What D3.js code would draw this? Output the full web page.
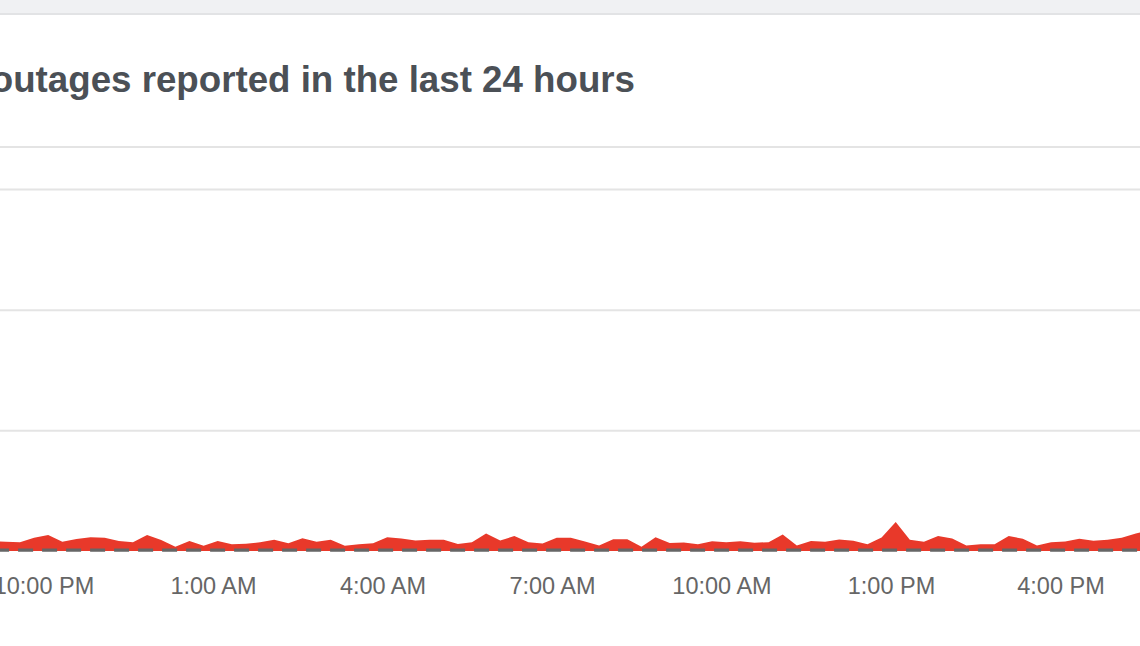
<!DOCTYPE html>
<html>
<head>
<meta charset="utf-8">
<script src="https://cdn.jsdelivr.net/npm/d3@7"></script>
<style>
  html, body { margin: 0; padding: 0; background: #fff; }
  svg { display: block; }
</style>
</head>
<body>
<svg id="chart" width="1140" height="646"></svg>
<script>
// ---- data ----
const titleText = "outages reported in the last 24 hours";
// first sample time and sampling interval (15 minutes)
const firstSample = "2024-01-01T21:05:00";
const sampleMinutes = 15;
// reports per sample
const reports = [
  0.80,
  0.77, 0.72, 1.10, 1.33, 0.77, 0.99, 1.14, 1.10, 0.83, 0.72,
  1.33, 0.91, 0.36, 0.83, 0.44, 0.83, 0.56, 0.60, 0.72, 0.94,
  0.64, 1.05, 0.77, 0.94, 0.44, 0.56, 0.64, 1.14, 1.04, 0.86,
  0.94, 0.94, 0.58, 0.73, 1.45, 0.87, 1.24, 0.73, 0.62, 1.10,
  1.10, 0.79, 0.46, 0.97, 0.97, 0.36, 1.14, 0.66, 0.70, 0.56,
  0.81, 0.72, 0.81, 0.69, 0.73, 1.37, 0.46, 0.83, 0.76, 0.95,
  0.85, 0.56, 1.12, 2.40, 0.94, 0.76, 1.24, 1.04, 0.46, 0.56,
  0.56, 1.24, 1.01, 0.46, 0.73, 0.79, 1.01, 0.85, 0.93, 1.10,
  1.45, 1.70
];
const baselineValue = 0.08;
const yGridValues = [10, 20, 30];
const xTickTimes = [
  "2024-01-01T22:00:00", "2024-01-02T01:00:00", "2024-01-02T04:00:00",
  "2024-01-02T07:00:00", "2024-01-02T10:00:00", "2024-01-02T13:00:00",
  "2024-01-02T16:00:00"
];
const xTickLabels = ["10:00 PM", "1:00 AM", "4:00 AM", "7:00 AM", "10:00 AM", "1:00 PM", "4:00 PM"];

// ---- build ----
const W = 1140, H = 646;
const svg = d3.select("#chart");
const parse = d3.timeParse("%Y-%m-%dT%H:%M:%S");
const t0 = parse(firstSample);
const series = reports.map((v, i) => ({ t: d3.timeMinute.offset(t0, i * sampleMinutes), v }));
const ticks = xTickTimes.map(parse);

// header band
svg.append("rect").attr("x", 0).attr("y", 0).attr("width", W).attr("height", 14).attr("fill", "#f0f1f3");
svg.append("rect").attr("x", 0).attr("y", 13).attr("width", W).attr("height", 2).attr("fill", "#e2e3e5");

// title
svg.append("text")
  .attr("x", 635).attr("y", 92)
  .attr("text-anchor", "end")
  .attr("font-family", "'Liberation Sans', Arial, Helvetica, sans-serif")
  .attr("font-weight", 700)
  .attr("font-size", 36.7)
  .attr("fill", "#4b5056")
  .text(titleText);

// separator
svg.append("rect").attr("x", 0).attr("y", 146).attr("width", W).attr("height", 2).attr("fill", "#e4e4e4");

const x = d3.scaleTime().domain([ticks[0], ticks[ticks.length - 1]]).range([43.5, 1060.5]);
const y = d3.scaleLinear().domain([0, 30]).range([551, 189]);

// grid
const grid = svg.append("g")
  .call(d3.axisLeft(y).tickValues(yGridValues).tickSize(-W).tickFormat(""));
grid.select(".domain").remove();
grid.selectAll(".tick line").attr("stroke", "#e4e4e4").attr("stroke-width", 2);

// area
const area = d3.area().x(d => x(d.t)).y0(y(0)).y1(d => y(d.v)).curve(d3.curveLinear);
svg.append("path").datum(series).attr("d", area).attr("fill", "#e8392a");

// baseline dashed
svg.append("line")
  .attr("x1", 0).attr("x2", W)
  .attr("y1", y(baselineValue)).attr("y2", y(baselineValue))
  .attr("stroke", "#666666").attr("stroke-width", 3.3)
  .attr("stroke-dasharray", "15,9").attr("stroke-dashoffset", 5.9);

// x axis
const xAxis = svg.append("g").attr("transform", `translate(0,${y(0)})`)
  .call(d3.axisBottom(x).tickValues(ticks).tickSize(0).tickPadding(0)
    .tickFormat((d, i) => xTickLabels[i]));
xAxis.select(".domain").remove();
xAxis.selectAll("text")
  .attr("dy", 0).attr("y", 43)
  .attr("font-family", "'Liberation Sans', Arial, Helvetica, sans-serif")
  .attr("font-size", 23.5)
  .attr("fill", "#666666");
</script>
</body>
</html>
